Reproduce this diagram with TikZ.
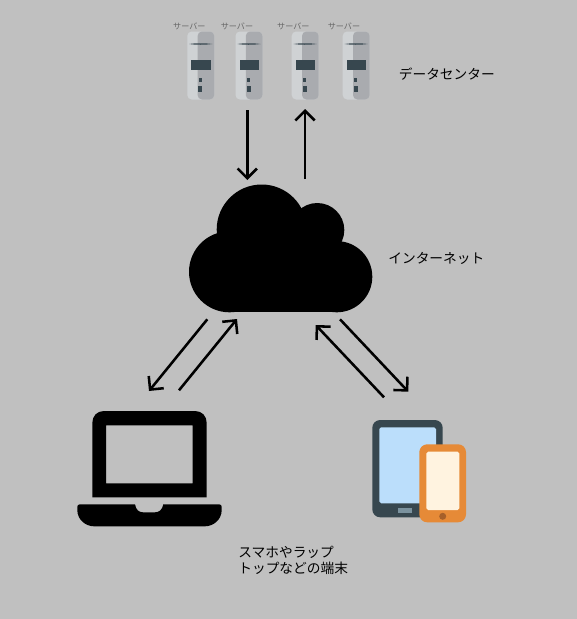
\documentclass[tikz,border=0pt]{standalone}
\usepackage{fontspec}
\setmainfont{Noto Sans CJK JP}
\usetikzlibrary{arrows.meta, positioning}

\definecolor{bgray}{HTML}{C0C0C0}
\definecolor{srvlight}{HTML}{CFD2D4}
\definecolor{srvdark}{HTML}{A9ABAF}
\definecolor{slate}{HTML}{37474F}
\definecolor{tabscreen}{HTML}{BBDEFB}
\definecolor{tabbtn}{HTML}{7B929E}
\definecolor{phoneorange}{HTML}{E68A37}
\definecolor{phonescreen}{HTML}{FFF3E0}
\definecolor{phonebtn}{HTML}{A6602A}

\tikzset{
    flow/.style={-{Straight Barb[length=5.5pt,width=11pt,line width=1.45pt]}, line width=1.45pt},
    srvlabel/.style={font=\fontsize{4.6}{5.5}\selectfont, text=black!60, inner sep=0pt},
    biglabel/.style={font=\fontsize{7.8}{9.3}\selectfont, inner sep=0pt, align=left}
}

\begin{document}
\begin{tikzpicture}[x=0.02cm, y=-0.02cm]
    \useasboundingbox (0,0) rectangle (577,619);
    \fill[bgray] (0,0) rectangle (577,619);

    % servers
    \foreach \x/\l in {187.3/189.3, 235.5/237, 291.7/293.3, 342.7/344} {
        \node[srvlabel] at (\l,26) {サーバー};
        \fill[srvlight, rounded corners=2.5pt] (\x,31.5) rectangle ++(27,68);
        \fill[srvdark, rounded corners=2.5pt] (\x+10.3,31.5) rectangle ++(16.7,68);
        \fill[slate] (\x+2,44) .. controls (\x+8,43) and (\x+18,43) .. (\x+25,44)
            .. controls (\x+18,45) and (\x+8,45) .. cycle;
        \fill[slate] (\x+4,60) rectangle ++(19.7,10);
        \fill[slate] (\x+11.7,78.3) rectangle ++(2.7,3.4);
        \fill[slate] (\x+11,86) rectangle ++(4,5.7);
    }
    \node[biglabel, anchor=west] (dc) at (398.5,73.7) {データセンター};

    % cloud
    \fill[black] (229.5,271.8) circle (40.5);
    \fill[black] (336.7,276.7) circle (35.6);
    \fill[black] (261.7,229.5) circle (45);
    \fill[black] (317.3,230) circle (27);
    \fill[black] (229.5,232) rectangle (336.7,312.3);
    \node[biglabel, anchor=west] (net) at (388,258.7) {インターネット};

    % laptop
    \fill[black, even odd rule]
        (92.3,497.3) -- (92.3,423) .. controls (92.3,416) and (97,411) .. (104,411)
        -- (195,411) .. controls (202,411) and (206.7,416) .. (206.7,423)
        -- (206.7,497.3) -- cycle
        (106,425.3) rectangle (192.7,483.3);
    \fill[black] (80,504.3) -- (135,504.3) .. controls (136,510) and (139,512.3) .. (143,512.3)
        -- (155,512.3) .. controls (159,512.3) and (162.3,510) .. (163.3,504.3) -- (219,504.3)
        .. controls (221,504.3) and (221.7,505.5) .. (221.7,507) -- (221.7,510)
        .. controls (221.7,520) and (213,526.3) .. (205,526.3) -- (94,526.3)
        .. controls (86,526.3) and (77.3,520) .. (77.3,510) -- (77.3,507)
        .. controls (77.3,505.5) and (78,504.3) .. (80,504.3) -- cycle;

    % tablet and phone
    \fill[slate, rounded corners=4.5pt] (372.3,420) rectangle (442.7,517.3);
    \fill[tabscreen, rounded corners=1pt] (379.3,427.3) rectangle (436,503.3);
    \fill[tabbtn] (398,508) rectangle (412.3,513);
    \fill[phoneorange, rounded corners=4.5pt] (419.3,444.3) rectangle (466,522.3);
    \fill[phonescreen, rounded corners=1pt] (426.3,451.7) rectangle (459.3,510);
    \fill[phonebtn] (442.7,516.3) circle (3.5);
    \node[biglabel, anchor=north west] (term) at (238,545.5) {スマホやラップ\\トップなどの端末};

    % arrow ends
    \coordinate (dcdown) at (247.3,110);
    \coordinate (cloudin) at (247.3,180);
    \coordinate (cloudout) at (305,179);
    \coordinate (dcup) at (305,109);
    \coordinate (cloudsw) at (207.3,319.3);
    \coordinate (laptopin) at (149,391);
    \coordinate (laptopout) at (179,390.3);
    \coordinate (cloudsa) at (237,319);
    \coordinate (mobileout) at (384,397.3);
    \coordinate (cloudsb) at (315.7,325);
    \coordinate (cloudse) at (340,319.3);
    \coordinate (mobilein) at (408.3,391.7);

    \draw[flow] (dcdown) -- (cloudin);
    \draw[flow] (cloudout) -- (dcup);
    \draw[flow] (cloudsw) -- (laptopin);
    \draw[flow] (laptopout) -- (cloudsa);
    \draw[flow] (mobileout) -- (cloudsb);
    \draw[flow] (cloudse) -- (mobilein);
\end{tikzpicture}
\end{document}
